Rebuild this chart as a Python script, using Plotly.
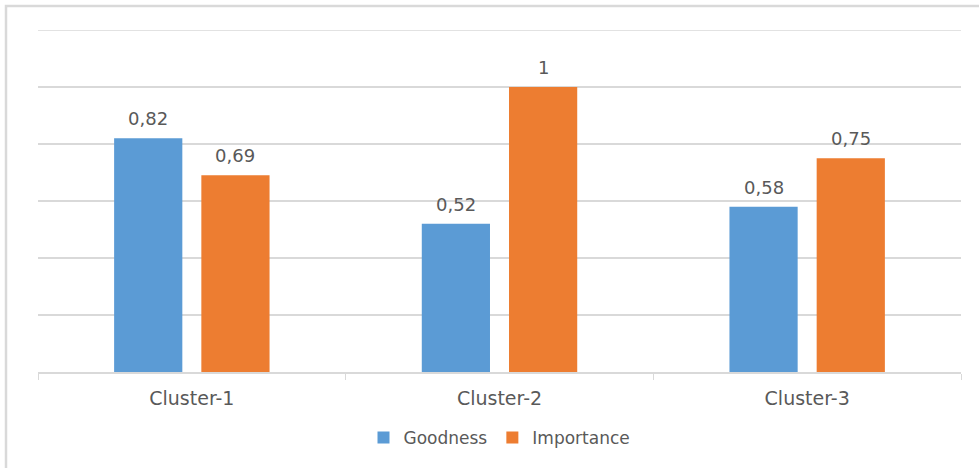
import plotly.graph_objects as go

categories = ["Cluster-1", "Cluster-2", "Cluster-3"]
goodness = [0.82, 0.52, 0.58]
importance = [0.69, 1.0, 0.75]
y_ticks = [0, 0.2, 0.4, 0.6, 0.8, 1.0, 1.2]

BLUE = "#5B9BD5"
ORANGE = "#ED7D31"
GRID = "#D9D9D9"
TEXT = "#595959"
FONT = "DejaVu Sans"


def comma_label(v):
    return f"{v:g}".replace(".", ",")


W, H = 979, 468
L, R, T, B = 38, 18, 30, 96
pw, ph = W - L - R, H - T - B
BARGAP, GROUPGAP = 0.433, 0.218
# half of one bar slot in pixels: used to centre value labels over each bar
slot_half = pw / len(categories) * (1 - BARGAP) / 4

fig = go.Figure()
annotations = []
series = [("Goodness", goodness, BLUE, -1), ("Importance", importance, ORANGE, 1)]
for name, vals, color, side in series:
    fig.add_trace(go.Bar(
        name=name, x=categories, y=vals,
        marker=dict(color=color, line=dict(width=0)),
    ))
    for cat, v in zip(categories, vals):
        annotations.append(dict(
            x=cat, y=v, text=comma_label(v), showarrow=False,
            xshift=side * slot_half, yshift=7, yanchor="bottom",
            font=dict(size=18, color=TEXT, family=FONT),
        ))

shapes = [
    # outer chart frame
    dict(type="rect", xref="paper", yref="paper",
         x0=(6 - L) / pw, x1=(W + 10 - L) / pw,
         y0=-(H + 10 - T - ph) / ph, y1=(ph + T - 6) / ph,
         line=dict(color=GRID, width=2.5), fillcolor="rgba(0,0,0,0)",
         layer="below"),
    # gridline at the top of the value range
    dict(type="line", xref="paper", yref="y", x0=0, x1=1,
         y0=y_ticks[-1], y1=y_ticks[-1],
         line=dict(color=GRID, width=1.5), layer="below"),
]

fig.update_layout(
    width=W, height=H,
    margin=dict(l=L, r=R, t=T, b=B, autoexpand=False),
    paper_bgcolor="white", plot_bgcolor="white",
    barmode="group", bargap=BARGAP, bargroupgap=GROUPGAP,
    font=dict(family=FONT, size=16, color=TEXT),
    annotations=annotations,
    shapes=shapes,
    legend=dict(orientation="h", x=0.5, xanchor="center",
                yref="container", y=(H - 438) / H, yanchor="middle",
                font=dict(size=17, color=TEXT, family=FONT), itemwidth=30),
    xaxis=dict(showline=True, linecolor=GRID, linewidth=1.5, ticks="outside",
               tickson="boundaries", ticklen=6, tickcolor=GRID, showgrid=False,
               ticklabelstandoff=8, automargin=False,
               tickfont=dict(size=19, color=TEXT, family=FONT)),
    yaxis=dict(range=[0, y_ticks[-1]], tickvals=y_ticks, showticklabels=False,
               showgrid=True, gridcolor=GRID, gridwidth=1.5, zeroline=False,
               fixedrange=True, automargin=False),
)

fig.write_html("out.html")
